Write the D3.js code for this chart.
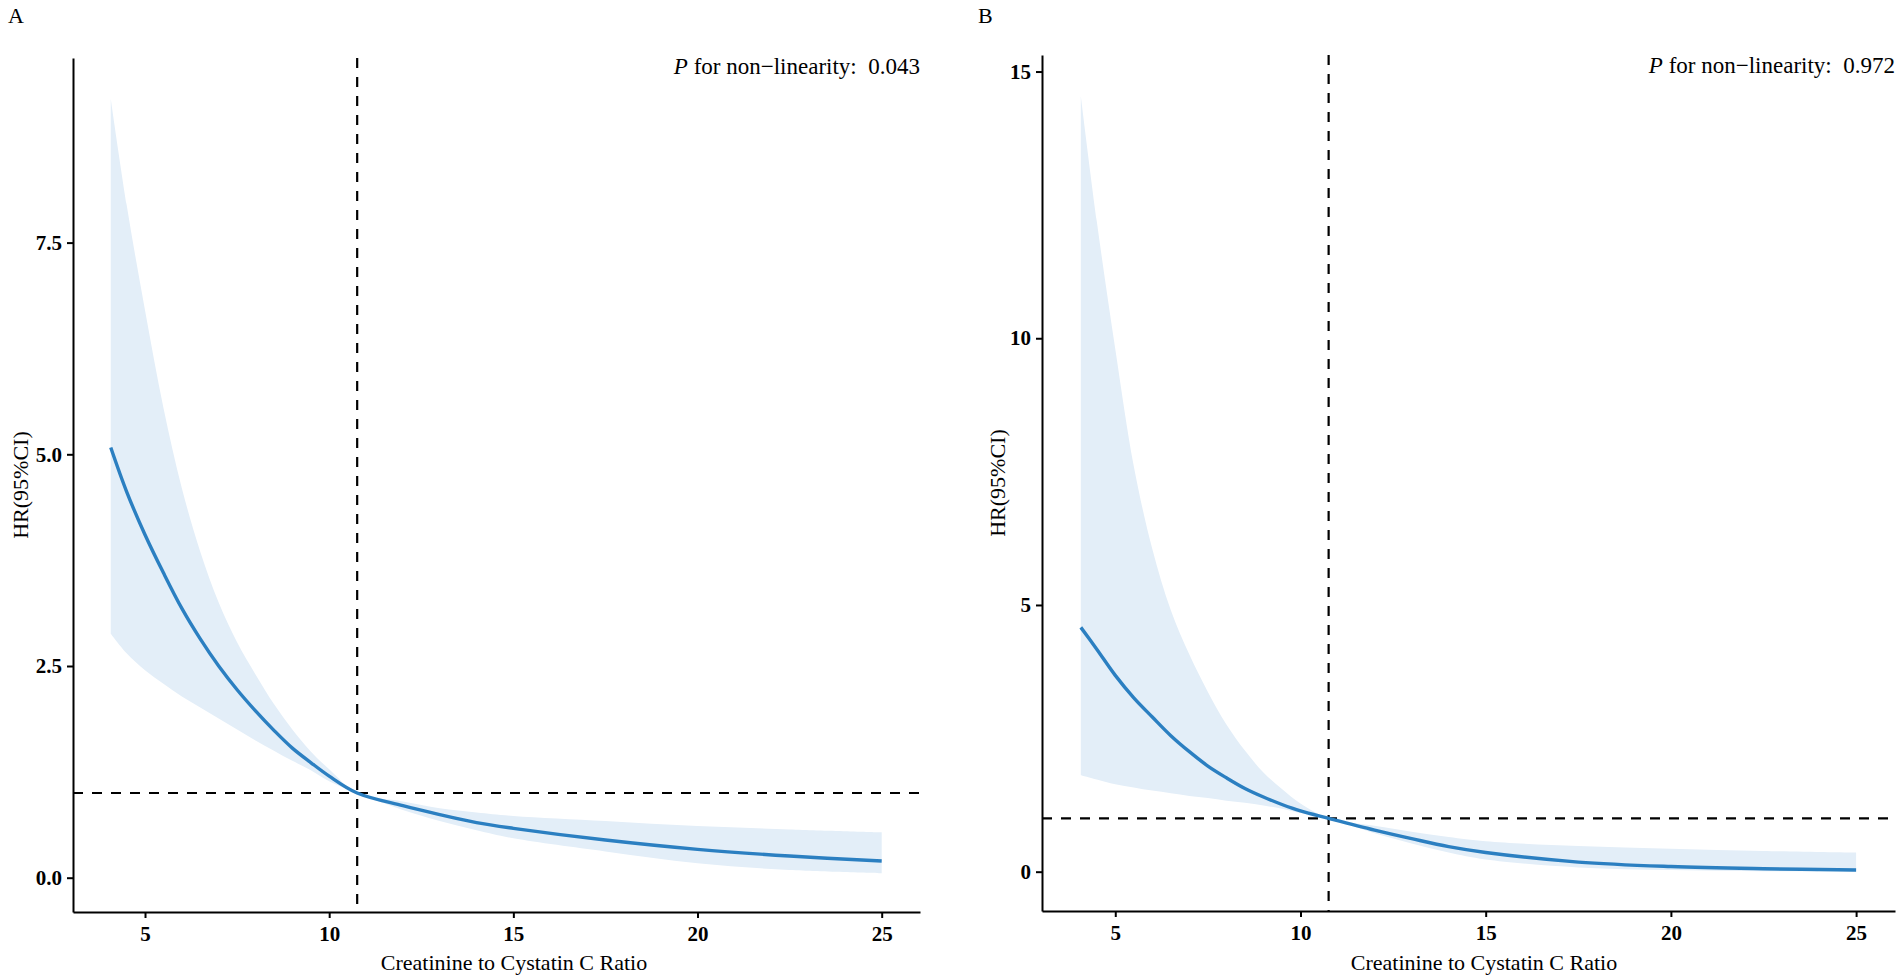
<!DOCTYPE html>
<html>
<head>
<meta charset="utf-8">
<script src="https://cdn.jsdelivr.net/npm/d3@7"></script>
<style>
  body { margin: 0; background: #fff; }
  svg { display: block; }
  text { font-family: "Liberation Serif", "Times New Roman", serif; }
  .axis path, .axis line { stroke: #000; stroke-width: 2; }
  .axis text { font-family: "Liberation Serif", "Times New Roman", serif; font-size: 21px; font-weight: bold; fill: #000; }
  .title { font-family: "Liberation Serif", "Times New Roman", serif; font-size: 22px; fill: #000; }
  .ptext { font-family: "Liberation Serif", "Times New Roman", serif; font-size: 23px; fill: #000; white-space: pre; }
</style>
</head>
<body>
<svg id="chart"></svg>
<script>
// values
const ratioA = [4.07, 4.5, 5, 5.5, 6, 6.5, 7, 7.5, 8, 8.5, 9, 9.5, 10, 10.76, 12, 13, 14, 15, 17.5, 20, 22.5, 25];
const hrA    = [5.08, 4.56, 4.05, 3.6, 3.18, 2.82, 2.5, 2.22, 1.97, 1.74, 1.53, 1.36, 1.2, 1.0, 0.85, 0.745, 0.65, 0.583, 0.445, 0.335, 0.256, 0.197];
const lowerA = [2.88, 2.65, 2.45, 2.29, 2.14, 2.01, 1.88, 1.75, 1.62, 1.5, 1.38, 1.27, 1.14, 1.0, 0.8, 0.67, 0.56, 0.465, 0.31, 0.17, 0.09, 0.052];
const upperA = [9.2, 7.95, 6.7, 5.55, 4.6, 3.85, 3.25, 2.78, 2.4, 2.05, 1.75, 1.49, 1.28, 1.0, 0.9, 0.82, 0.77, 0.73, 0.67, 0.61, 0.57, 0.536];

const ratioB = [4.07, 4.5, 5, 5.5, 6, 6.5, 7, 7.5, 8, 8.5, 9, 9.5, 10, 10.76, 12, 13, 14, 15, 17.5, 20, 22.5, 25];
const hrB    = [4.58, 4.17, 3.68, 3.26, 2.9, 2.55, 2.25, 1.98, 1.76, 1.56, 1.4, 1.26, 1.14, 1.0, 0.78, 0.62, 0.47, 0.36, 0.18, 0.097, 0.056, 0.032];
const lowerB = [1.81, 1.73, 1.64, 1.58, 1.52, 1.47, 1.42, 1.38, 1.33, 1.29, 1.24, 1.18, 1.1, 1.0, 0.72, 0.53, 0.36, 0.23, 0.08, 0.03, 0.01, 0.0];
const upperB = [14.54, 12.2, 9.8, 7.6, 6.05, 4.9, 4.07, 3.37, 2.76, 2.27, 1.86, 1.55, 1.28, 1.0, 0.86, 0.75, 0.65, 0.57, 0.48, 0.43, 0.39, 0.36];

const xTicks  = [5, 10, 15, 20, 25];
const yTicksA = [0, 2.5, 5, 7.5];
const yTicksB = [0, 5, 10, 15];

const refRatio = 10.76;
const refHR = 1;
const pValueA = "0.043";
const pValueB = "0.972";
const xTitle = "Creatinine to Cystatin C Ratio";
const yTitle = "HR(95%CI)";

const svg = d3.select("#chart")
    .attr("width", 1902)
    .attr("height", 980);

function drawPanel(cfg) {
    const x = d3.scaleLinear().domain(cfg.xDomain).range([cfg.left, cfg.right]);
    const y = d3.scaleLinear().domain(cfg.yDomain).range([cfg.bottom, cfg.top]);

    const rows = cfg.ratio.map((r, i) => ({r: r, hr: cfg.hr[i], lo: cfg.lower[i], hi: cfg.upper[i]}));
    const smooth = d3.curveCatmullRom.alpha(0.5);

    const g = svg.append("g");

    // confidence band
    g.append("path")
        .datum(rows)
        .attr("fill", "#e3eef8")
        .attr("d", d3.area()
            .curve(smooth)
            .x(d => x(d.r))
            .y0(d => y(d.lo))
            .y1(d => y(d.hi)));

    // reference lines
    g.append("line")
        .attr("x1", x.range()[0]).attr("x2", x.range()[1])
        .attr("y1", y(refHR)).attr("y2", y(refHR))
        .attr("stroke", "#000").attr("stroke-width", 2.2)
        .attr("stroke-dasharray", "10,9");

    g.append("line")
        .attr("x1", x(refRatio)).attr("x2", x(refRatio))
        .attr("y1", y.range()[1]).attr("y2", y.range()[0])
        .attr("stroke", "#000").attr("stroke-width", 2.2)
        .attr("stroke-dasharray", "10,9");

    // fitted curve
    g.append("path")
        .datum(rows)
        .attr("fill", "none")
        .attr("stroke", "#2b7fc1")
        .attr("stroke-width", 3.4)
        .attr("d", d3.line()
            .curve(smooth)
            .x(d => x(d.r))
            .y(d => y(d.hr)));

    g.append("g")
        .attr("class", "axis")
        .attr("transform", `translate(0, ${cfg.bottom})`)
        .call(d3.axisBottom(x).tickValues(xTicks).tickSize(6).tickPadding(8).tickSizeOuter(0));

    g.append("g")
        .attr("class", "axis")
        .attr("transform", `translate(${cfg.left}, 0)`)
        .call(d3.axisLeft(y).tickValues(cfg.yTicks).tickFormat(cfg.yFormat).tickSize(6).tickPadding(5).tickSizeOuter(0));

    g.append("text")
        .attr("class", "title")
        .attr("x", cfg.xTitleX)
        .attr("y", 970)
        .attr("text-anchor", "middle")
        .text(xTitle);

    g.append("text")
        .attr("class", "title")
        .attr("transform", `translate(${cfg.yTitleX}, ${(cfg.top + cfg.bottom) / 2}) rotate(-90)`)
        .attr("text-anchor", "middle")
        .text(yTitle);

    g.append("text")
        .attr("class", "title")
        .attr("x", cfg.labelX)
        .attr("y", 23)
        .text(cfg.label);

    const p = g.append("text")
        .attr("class", "ptext")
        .attr("x", cfg.right)
        .attr("y", cfg.pY)
        .attr("text-anchor", "end");
    p.append("tspan").attr("font-style", "italic").text("P");
    p.append("tspan").text(" for non\u2212linearity:  " + cfg.pValue);
}

drawPanel({
    ratio: ratioA, hr: hrA, lower: lowerA, upper: upperA,
    xDomain: [3.045, 26.04], yDomain: [-0.405, 9.68],
    left: 73, right: 920, top: 58, bottom: 912,
    yTicks: yTicksA, yFormat: d3.format(".1f"),
    xTitleX: 514, yTitleX: 28, labelX: 8, label: "A",
    pValue: pValueA, pY: 74
});

drawPanel({
    ratio: ratioB, hr: hrB, lower: lowerB, upper: upperB,
    xDomain: [3.022, 26.05], yDomain: [-0.737, 15.31],
    left: 1042, right: 1895, top: 55, bottom: 911,
    yTicks: yTicksB, yFormat: d3.format("d"),
    xTitleX: 1484, yTitleX: 1005, labelX: 978, label: "B",
    pValue: pValueB, pY: 73
});
</script>
</body>
</html>
